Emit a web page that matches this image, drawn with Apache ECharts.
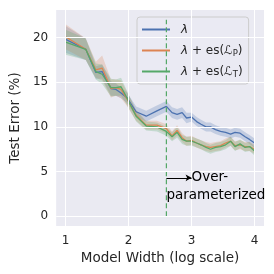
<!DOCTYPE html>
<html><head><meta charset="utf-8">
<script src="https://cdn.jsdelivr.net/npm/echarts@6/dist/echarts.min.js"></script>
<style>html,body{margin:0;padding:0;background:#fff}#c{width:274px;height:274px}</style>
</head><body><div id="c"></div>
<script>
const widths = [1.0, 1.32, 1.48, 1.58, 1.72, 1.8, 1.88, 1.97, 2.12, 2.28, 2.45, 2.6, 2.69, 2.77, 2.85, 2.92, 3.0, 3.08, 3.15, 3.23, 3.3, 3.38, 3.46, 3.54, 3.62, 3.69, 3.77, 3.85, 3.92, 4.0];
const lambdaErr = [19.8, 18.7, 16.1, 16.2, 14.3, 14.2, 13.8, 13.3, 11.7, 11.2, 11.8, 12.3, 11.6, 11.4, 11.6, 11.0, 11.1, 10.6, 10.3, 10.0, 10.0, 9.7, 9.5, 9.4, 9.2, 9.4, 9.3, 8.9, 8.6, 8.2];
const esPErr = [20.1, 18.7, 16.4, 16.6, 14.3, 14.4, 14.2, 13.2, 11.3, 10.2, 10.2, 9.8, 9.0, 9.6, 8.8, 8.4, 8.5, 8.2, 8.0, 7.8, 7.7, 7.8, 7.9, 8.2, 8.4, 7.9, 8.0, 7.8, 7.8, 7.5];
const esTErr = [19.5, 18.7, 16.2, 15.9, 14.4, 14.4, 14.5, 13.3, 11.2, 10.1, 10.0, 9.5, 8.9, 9.4, 8.6, 8.4, 8.4, 8.2, 8.0, 7.7, 7.5, 7.7, 7.8, 8.0, 8.4, 7.8, 8.1, 7.7, 7.8, 7.3];
const lambdaBand = [1.5, 1.2, 0.7, 0.8, 0.8, 0.7, 0.6, 0.6, 0.6, 0.6, 0.6, 0.6, 0.6, 0.6, 0.6, 0.6, 0.5, 0.5, 0.5, 0.5, 0.5, 0.5, 0.5, 0.5, 0.5, 0.5, 0.5, 0.5, 0.5, 0.5];
const esPBand = [1.4, 1.2, 0.9, 1.4, 1.0, 0.9, 1.0, 0.8, 0.6, 0.5, 0.5, 0.5, 0.5, 0.6, 0.5, 0.5, 0.5, 0.5, 0.5, 0.5, 0.5, 0.5, 0.5, 0.5, 0.5, 0.5, 0.5, 0.5, 0.5, 0.5];
const esTBand = [1.4, 1.2, 0.9, 1.1, 1.0, 0.9, 1.0, 0.8, 0.6, 0.5, 0.5, 0.5, 0.5, 0.6, 0.5, 0.5, 0.5, 0.5, 0.5, 0.5, 0.5, 0.5, 0.5, 0.5, 0.5, 0.5, 0.5, 0.5, 0.5, 0.5];
const xTicks = [1, 2, 3, 4];
const yTicks = [0, 5, 10, 15, 20];
const threshold = 2.6;
const thresholdTop = 22;
const arrowY = 4.3;
const arrowEndX = 3.0;
const label1 = 'Over-';
const label2 = 'parameterized';
const label2Y = 2.3;

const C = ['#4c72b0', '#dd8452', '#55a868'];
const FONT = 'DejaVu Sans';
const names = ['lam', 'esP', 'esT'];
const means = [lambdaErr, esPErr, esTErr];
const bands = [lambdaBand, esPBand, esTBand];

const series = [];
// grid lines (dummy series)
series.push({
  type: 'line', data: [], z: 1, silent: true,
  markLine: {
    silent: true, symbol: 'none', animation: false,
    lineStyle: {color: '#ffffff', width: 1, type: 'solid'},
    label: {show: false},
    data: xTicks.map(v => ({xAxis: v})).concat(yTicks.map(v => ({yAxis: v})))
  }
});
means.forEach((m, k) => {
  const rows = widths.map((x, i) => [x, m[i] - bands[k][i], m[i] + bands[k][i]]);
  series.push({
    type: 'custom', z: 2, silent: true,
    data: rows,
    encode: {x: 0, y: [1, 2]},
    renderItem: function (params, api) {
      if (params.dataIndex !== 0) return null;
      const up = rows.map(r => api.coord([r[0], r[2]]));
      const lo = rows.map(r => api.coord([r[0], r[1]])).reverse();
      return {
        type: 'polygon',
        shape: {points: up.concat(lo)},
        style: {fill: C[k], opacity: 0.25}
      };
    }
  });
});
means.forEach((m, k) => {
  series.push({
    name: names[k], type: 'line', z: 3, symbol: 'none', showSymbol: false,
    lineStyle: {color: C[k], width: 1.3}, itemStyle: {color: C[k]},
    data: widths.map((x, i) => [x, m[i]])
  });
});
// dashed threshold line
series.push({
  type: 'line', z: 4, symbol: 'none', silent: true,
  lineStyle: {color: C[2], width: 1.2, type: [5, 3]},
  data: [[threshold, 0], [threshold, thresholdTop]],
  markLine: {
    silent: true, symbol: ['none', 'arrow'], symbolSize: [5, 6], animation: false,
    lineStyle: {color: '#000', width: 1, type: 'solid'},
    label: {show: false},
    data: [[{coord: [threshold, arrowY]}, {coord: [arrowEndX, arrowY]}]]
  },
  markPoint: {
    silent: true, symbol: 'circle', symbolSize: 0, animation: false,
    data: [
      {coord: [arrowEndX, arrowY], label: {show: true, formatter: label1, position: 'right', distance: 0,
        fontFamily: FONT, fontSize: 13.5, color: '#000'}},
      {coord: [threshold, label2Y], label: {show: true, formatter: label2, position: 'right', distance: 0,
        fontFamily: FONT, fontSize: 13.5, color: '#000'}}
    ]
  }
});

const legendText = {
  lam: '{it|λ}',
  esP: '{it|λ} + es({cal|ℒ}{sub|P})',
  esT: '{it|λ} + es({cal|ℒ}{sub|T})'
};

const chart = echarts.init(document.getElementById('c'), null, {renderer: 'canvas'});
chart.setOption({
  animation: false,
  backgroundColor: '#ffffff',
  grid: {left: 51, top: 10, right: 10, bottom: 48, show: true, backgroundColor: '#eaeaf2', borderWidth: 0},
  xAxis: {
    type: 'value', min: 0.85, max: 4.15,
    name: 'Model Width (log scale)', nameLocation: 'middle', nameGap: 21,
    nameTextStyle: {fontFamily: FONT, fontSize: 13.5, color: '#262626'},
    axisLine: {show: false}, axisTick: {show: false, customValues: xTicks},
    splitLine: {show: false},
    axisLabel: {customValues: xTicks, fontFamily: FONT, fontSize: 12, color: '#262626', margin: 9}
  },
  yAxis: {
    type: 'value', min: -1.1, max: 23.1,
    name: 'Test Error (%)', nameLocation: 'middle', nameGap: 28,
    nameTextStyle: {fontFamily: FONT, fontSize: 13.5, color: '#262626'},
    axisLine: {show: false}, axisTick: {show: false, customValues: yTicks},
    splitLine: {show: false},
    axisLabel: {customValues: yTicks, fontFamily: FONT, fontSize: 12, color: '#262626', margin: 8}
  },
  legend: {
    data: names, orient: 'vertical', left: 137, top: 17,
    padding: [5, 6, 5, 5], itemGap: 6, itemWidth: 28, itemHeight: 2, icon: 'rect',
    backgroundColor: 'rgba(234,234,242,0.8)', borderColor: '#cccccc', borderWidth: 1, borderRadius: 3,
    formatter: n => legendText[n],
    textStyle: {
      fontFamily: FONT, fontSize: 12, color: '#262626', padding: [0, 0, 0, 6], lineHeight: 15,
      rich: {
        it: {fontFamily: FONT, fontStyle: 'italic', fontSize: 12, color: '#262626'},
        cal: {fontFamily: FONT, fontStyle: 'italic', fontSize: 12, color: '#262626'},
        sub: {fontFamily: FONT, fontSize: 8.5, color: '#262626', verticalAlign: 'bottom', padding: [5, 0, 0, 0]}
      }
    }
  },
  series: series
});
</script></body></html>
